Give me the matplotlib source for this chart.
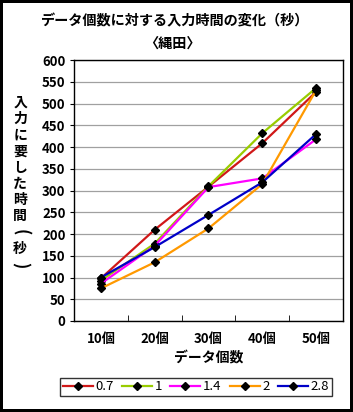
import matplotlib
matplotlib.use('Agg')
import matplotlib.pyplot as plt
from matplotlib.ticker import FixedLocator

plt.rcParams['font.family'] = ['Noto Sans CJK JP', 'DejaVu Sans']

# --- données ---
categories = ['10個', '20個', '30個', '40個', '50個']
series_names = ['0.7', '1', '1.4', '2', '2.8']
vals_07 = [98, 210, 309, 409, 527]
vals_1 = [93, 178, 310, 432, 536]
vals_14 = [86, 173, 308, 328, 418]
vals_2 = [75, 135, 213, 315, 531]
vals_28 = [100, 170, 244, 319, 430]
series_values = [vals_07, vals_1, vals_14, vals_2, vals_28]
colors = ['#D01818', '#99CC00', '#FF00FF', '#FF9900', '#0000C8']
y_label = '入力に要した時間(秒)'

fig = plt.figure(figsize=(3.53, 4.12), dpi=100, linewidth=3, edgecolor='black')
ax = fig.add_axes([0.2096, 0.2209, 0.7621, 0.6331])

x = range(len(categories))
for name, vals, c in zip(series_names, series_values, colors):
    ax.plot(x, vals, color=c, lw=1.6, marker='D', ms=4,
            mfc='black', mec='black', label=name)

ax.set_xlim(-0.5, len(categories) - 0.5)
ax.set_ylim(0, 600)
ax.set_yticks(range(0, 601, 50))
ax.yaxis.grid(True, color='#A0A0A0', lw=0.9)
ax.set_axisbelow(True)
ax.set_xticks(list(x))
ax.set_xticklabels(categories, fontsize=9.5, fontweight='bold')
ax.tick_params(axis='x', length=0, pad=8)
ax.xaxis.set_minor_locator(FixedLocator([0.5, 1.5, 2.5, 3.5]))
ax.tick_params(axis='x', which='minor', direction='in', length=4, color='black')
ax.tick_params(axis='y', length=3, labelsize=9.5, pad=3)
for lbl in ax.get_yticklabels():
    lbl.set_fontweight('bold')
for s in ax.spines.values():
    s.set_color('black')
    s.set_linewidth(1)

fig.text(0.495, 0.948, 'データ個数に対する入力時間の変化（秒）', ha='center', va='center',
         fontsize=10.2, fontweight='bold')
fig.text(0.487, 0.895, '〈縄田〉', ha='center', va='center',
         fontsize=10.2, fontweight='bold')

# libellé vertical empilé, parenthèses tournées comme dans Excel
y0 = 0.75
step = 0.0393
for i, ch in enumerate(y_label):
    rot = -90 if ch in '()' else 0
    size = 12 if ch in '()' else 10
    fig.text(0.057, y0 - i * step, ch, ha='center', va='center',
             fontsize=size, fontweight='bold', rotation=rot)

fig.text(0.59, 0.131, 'データ個数', ha='center', va='center',
         fontsize=10, fontweight='bold')

leg = fig.legend(loc='center', bbox_to_anchor=(0.555, 0.061), ncol=5,
                 frameon=True, fancybox=False, handlelength=2.3,
                 handletextpad=0.2, columnspacing=0.6, borderpad=0.2,
                 fontsize=9.5, edgecolor='black')
leg.get_frame().set_linewidth(1)

fig.savefig('out.png', dpi=100)
